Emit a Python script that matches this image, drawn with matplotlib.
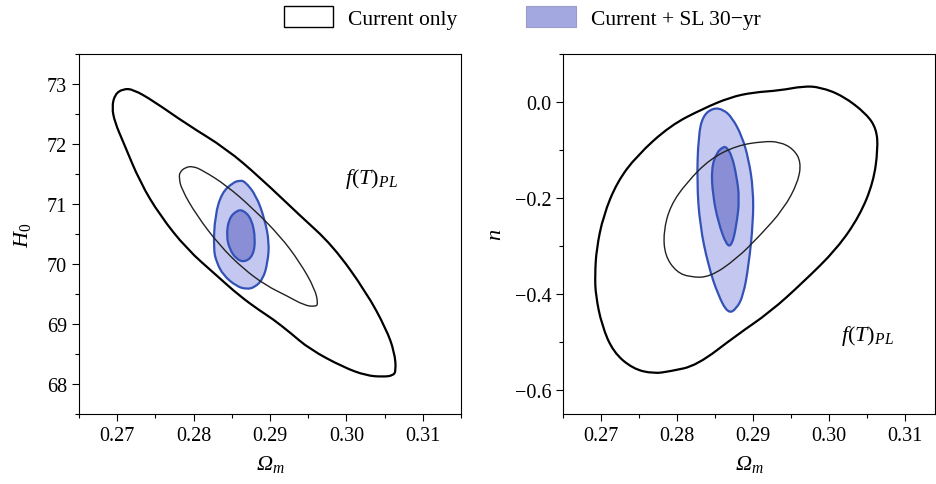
import numpy as np
import matplotlib
matplotlib.use('Agg')
import matplotlib.pyplot as plt
from matplotlib.patches import Patch, PathPatch
from matplotlib.path import Path

# Fonts: Times-like serif with italic math
plt.rcParams['font.family'] = 'Liberation Serif'
plt.rcParams['mathtext.fontset'] = 'custom'
plt.rcParams['mathtext.rm'] = 'Liberation Serif'
plt.rcParams['mathtext.it'] = 'Liberation Serif:italic'
plt.rcParams['font.size'] = 14.5

# Contour vertices: (Omega_m, H0)
h0_outer_om = [0.2693, 0.2697, 0.2708, 0.2721, 0.2747, 0.2791, 0.2843, 0.2887, 0.2939, 0.2982,
               0.3026, 0.3052, 0.3063, 0.3065, 0.3061, 0.3048, 0.3026, 0.2996, 0.2952, 0.2926,
               0.2904, 0.2887, 0.2860, 0.2830, 0.2791, 0.2756, 0.2730, 0.2708, 0.2697]
h0_outer_h = [72.61, 72.83, 72.92, 72.91, 72.72, 72.33, 71.92, 71.44, 70.81, 70.31,
              69.53, 68.92, 68.53, 68.22, 68.14, 68.12, 68.14, 68.28, 68.58, 68.86,
              69.08, 69.22, 69.47, 69.81, 70.25, 70.81, 71.36, 72.03, 72.36]
h0_inner_om = [0.2782, 0.2789, 0.2799, 0.2812, 0.2843, 0.2878, 0.2913, 0.2939, 0.2959, 0.2963,
               0.2959, 0.2945, 0.2922, 0.2895, 0.2865, 0.2834, 0.2804, 0.2784, 0.2781]
h0_inner_h = [71.53, 71.61, 71.63, 71.56, 71.31, 70.92, 70.47, 70.03, 69.58, 69.33,
              69.29, 69.31, 69.47, 69.64, 69.92, 70.31, 70.81, 71.25, 71.44]
h0_sl_outer_om = [0.2826, 0.2828, 0.2837, 0.2852, 0.2860, 0.2867, 0.2882, 0.2893, 0.2899, 0.2897,
                  0.2891, 0.2880, 0.2869, 0.2856, 0.2839, 0.2830]
h0_sl_outer_h = [70.25, 70.81, 71.19, 71.36, 71.39, 71.38, 71.14, 70.75, 70.36, 70.03,
                 69.75, 69.61, 69.58, 69.63, 69.81, 70.03]
h0_sl_inner_om = [0.2843, 0.2846, 0.2856, 0.2865, 0.2876, 0.2881, 0.2878, 0.2867, 0.2856, 0.2847]
h0_sl_inner_h = [70.47, 70.75, 70.89, 70.90, 70.75, 70.42, 70.14, 70.03, 70.08, 70.25]

# (Omega_m, n)
n_outer_om = [0.2692, 0.2694, 0.2703, 0.2721, 0.2747, 0.2791, 0.2834, 0.2870, 0.2900, 0.2935,
              0.2966, 0.2988, 0.3018, 0.3049, 0.3062, 0.3064, 0.3058, 0.3040, 0.3010, 0.2966,
              0.2922, 0.2878, 0.2826, 0.2791, 0.2769, 0.2742, 0.2716, 0.2701, 0.2693]
n_outer_n = [-0.361, -0.306, -0.237, -0.167, -0.112, -0.049, -0.014, 0.010, 0.020, 0.024,
             0.033, 0.031, 0.013, -0.025, -0.056, -0.098, -0.167, -0.237, -0.306, -0.375,
             -0.438, -0.486, -0.549, -0.561, -0.566, -0.556, -0.521, -0.465, -0.403]
n_inner_om = [0.2782, 0.2791, 0.2813, 0.2843, 0.2878, 0.2913, 0.2935, 0.2953, 0.2963, 0.2959,
              0.2940, 0.2909, 0.2878, 0.2843, 0.2817, 0.2799, 0.2784]
n_inner_n = [-0.271, -0.216, -0.167, -0.119, -0.091, -0.082, -0.083, -0.098, -0.125, -0.167,
             -0.223, -0.278, -0.327, -0.365, -0.365, -0.354, -0.320]
n_sl_outer_om = [0.2848, 0.2834, 0.2828, 0.2826, 0.2830, 0.2841, 0.2854, 0.2867, 0.2878, 0.2887,
                 0.2894, 0.2900, 0.2900, 0.2894, 0.2885, 0.2872, 0.2861]
n_sl_outer_n = [-0.012, -0.028, -0.070, -0.167, -0.257, -0.341, -0.403, -0.441, -0.431, -0.403,
                -0.341, -0.250, -0.181, -0.119, -0.070, -0.032, -0.016]
n_sl_inner_om = [0.2861, 0.2852, 0.2845, 0.2847, 0.2854, 0.2865, 0.2872, 0.2878, 0.2882, 0.2878,
                 0.2872, 0.2865]
n_sl_inner_n = [-0.093, -0.105, -0.139, -0.195, -0.250, -0.299, -0.299, -0.257, -0.202, -0.153,
                -0.112, -0.094]

light_blue = '#c4c7ef'
dark_blue = '#8a8fd5'
edge_blue = '#3352b8'
legend_blue = '#a4a8e0'


def smooth_path(xs, ys):
    # closed quadratic-bezier path using the read points as control points
    pts = np.column_stack([xs, ys])
    nxt = np.roll(pts, -1, axis=0)
    mids = (pts + nxt) / 2
    verts = [mids[-1]]
    codes = [Path.MOVETO]
    for p, m in zip(pts, mids):
        verts += [p, m]
        codes += [Path.CURVE3, Path.CURVE3]
    return Path(verts, codes)


def add_contour(ax, xs, ys, face, edge, lw, z):
    ax.add_patch(PathPatch(smooth_path(xs, ys), facecolor=face, edgecolor=edge,
                           lw=lw, zorder=z, joinstyle='round'))


def draw_panel(ax, outer, inner, sl_outer, sl_inner):
    add_contour(ax, *sl_outer, light_blue, edge_blue, 1.6, 1)
    add_contour(ax, *sl_inner, dark_blue, edge_blue, 1.6, 2)
    add_contour(ax, *outer, 'none', 'black', 1.6, 5)
    add_contour(ax, *inner, 'none', '#222222', 1.0, 5)


fig = plt.figure(figsize=(9.36, 4.85), dpi=100)
ax1 = fig.add_axes([79 / 936, 70 / 485, 382 / 936, 360 / 485])
ax2 = fig.add_axes([563 / 936, 70 / 485, 372 / 936, 360 / 485])

draw_panel(ax1, (h0_outer_om, h0_outer_h), (h0_inner_om, h0_inner_h),
           (h0_sl_outer_om, h0_sl_outer_h), (h0_sl_inner_om, h0_sl_inner_h))
draw_panel(ax2, (n_outer_om, n_outer_n), (n_inner_om, n_inner_n),
           (n_sl_outer_om, n_sl_outer_n), (n_sl_inner_om, n_sl_inner_n))

xticks = [0.27, 0.28, 0.29, 0.30, 0.31]
for ax in (ax1, ax2):
    ax.set_xticks(xticks)
    ax.set_xticklabels(['0.27', '0.28', '0.29', '0.30', '0.31'])
    ax.set_xticks(np.arange(0.265, 0.3151, 0.005), minor=True)
    ax.tick_params(which='major', length=5, width=0.8)
    ax.tick_params(which='minor', length=3, width=0.8)
    # italic capital omega: non-math part takes the italic text font
    ax.set_xlabel('\u03a9$_m$', fontsize=16, fontstyle='italic', labelpad=6)

ax1.set_xlim(0.265, 0.315)
ax1.set_ylim(67.5, 73.5)
ax1.set_yticks([68, 69, 70, 71, 72, 73])
ax1.set_yticks(np.arange(67.5, 73.51, 0.5), minor=True)
ax1.set_ylabel(r'$H_0$', fontsize=16, labelpad=10)
ax1.text(0.2998, 71.44, r'$f(T)_{PL}$', fontsize=16, va='center', ha='left')

ax2.set_xlim(0.265, 0.3139)
ax2.set_ylim(-0.65, 0.1)
ax2.set_yticks([-0.6, -0.4, -0.2, 0.0])
ax2.set_yticklabels(['\u22120.6', '\u22120.4', '\u22120.2', '0.0'])
ax2.set_yticks(np.arange(-0.6, 0.101, 0.1), minor=True)
ax2.set_ylabel(r'$n$', fontsize=16, labelpad=6)
ax2.text(0.3016, -0.486, r'$f(T)_{PL}$', fontsize=16, va='center', ha='left')

handles = [Patch(facecolor='white', edgecolor='black', lw=1.0),
           Patch(facecolor=legend_blue, edgecolor='#9a9ccc', lw=0.8)]
fig.legend(handles, ['Current only', 'Current + SL 30\u2212yr'], loc='center',
           bbox_to_anchor=(0.558, 0.962), ncol=2, frameon=False, fontsize=15.5,
           handlelength=2.28, handleheight=1.16, handletextpad=0.7, columnspacing=3.2)

fig.savefig('out.png', dpi=100)
